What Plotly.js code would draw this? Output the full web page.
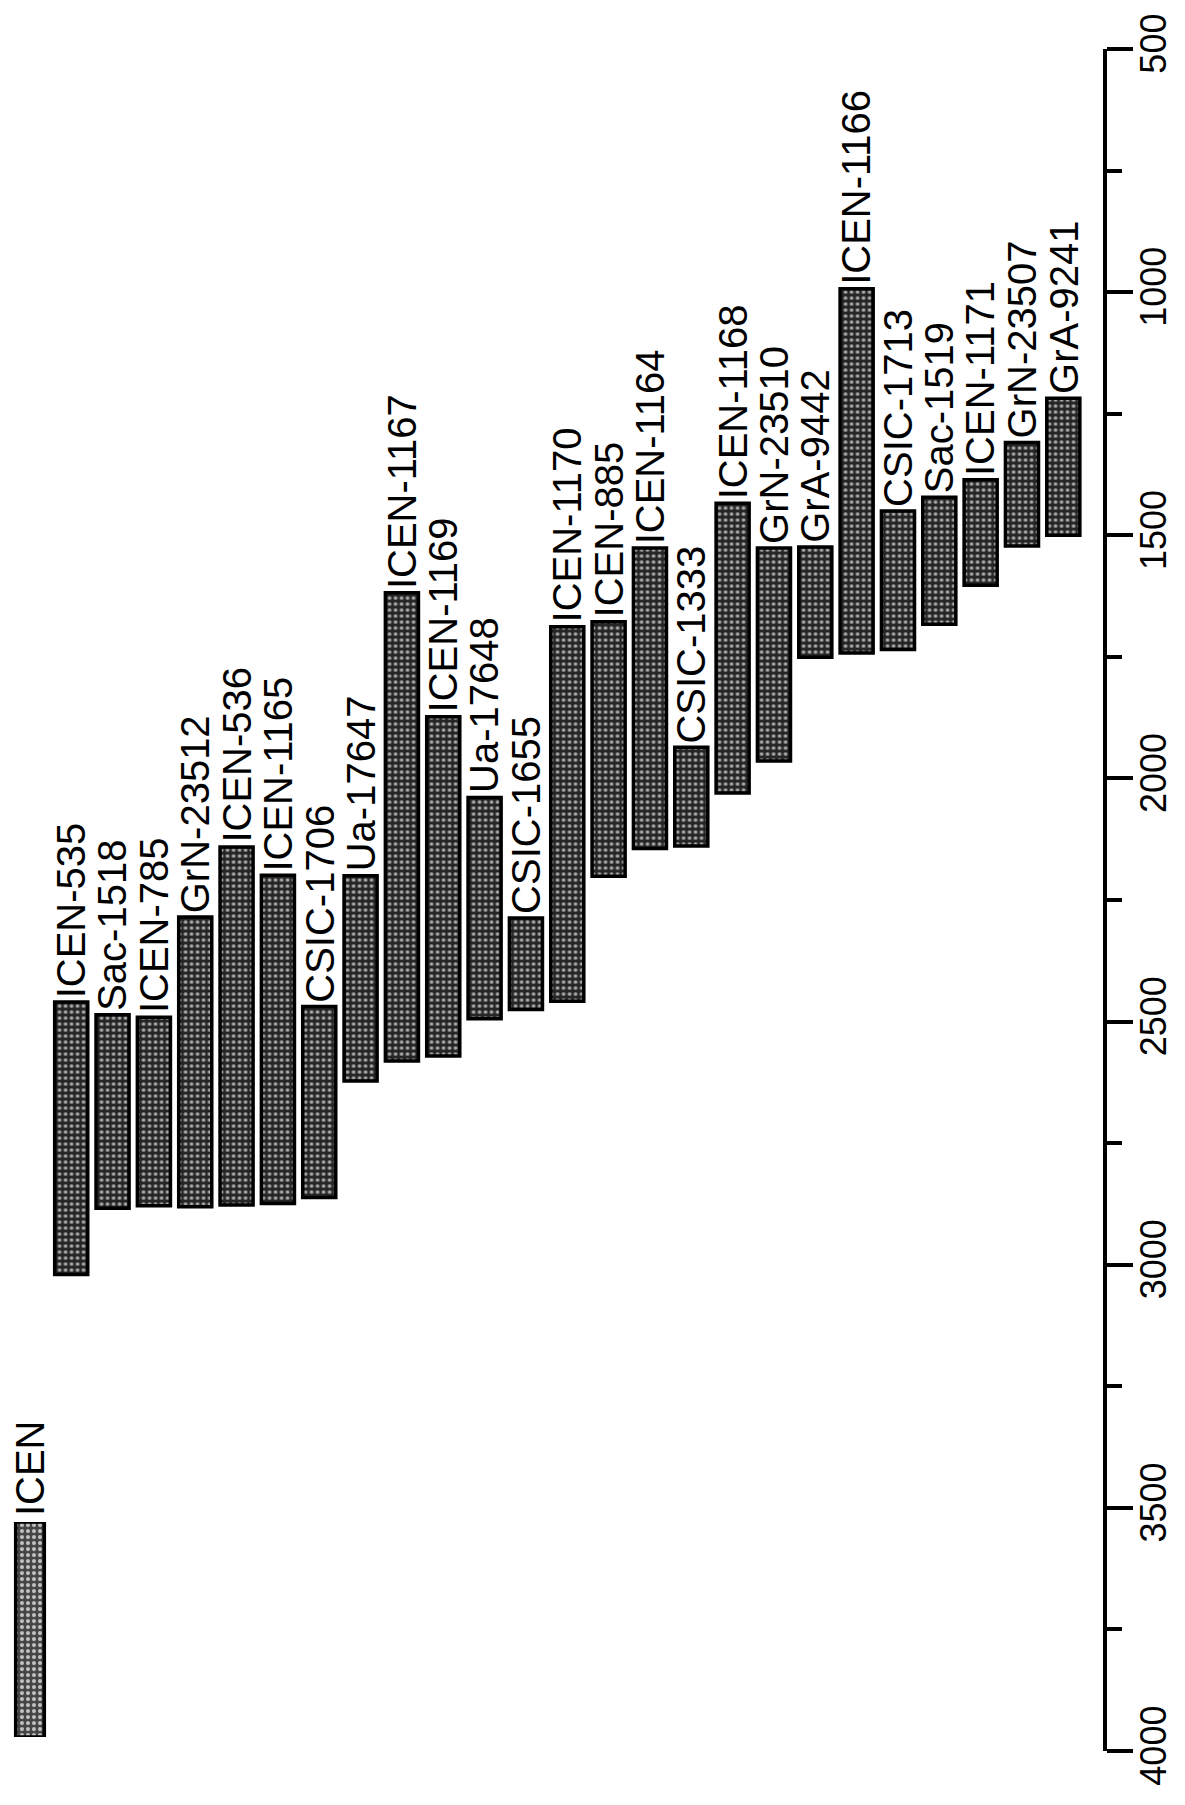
<!DOCTYPE html>
<html>
<head>
<meta charset="utf-8">
<script src="https://cdn.plot.ly/plotly-3.0.1.min.js"></script>
<style>html,body{margin:0;padding:0;background:#fff;}#chart{width:1185px;height:1805px;}</style>
</head>
<body>
<div id="chart"></div>
<script>
// Sample labels (left to right)
const labels = ["ICEN-535","Sac-1518","ICEN-785","GrN-23512","ICEN-536","ICEN-1165","CSIC-1706","Ua-17647","ICEN-1167","ICEN-1169","Ua-17648","CSIC-1655","ICEN-1170","ICEN-885","ICEN-1164","CSIC-1333","ICEN-1168","GrN-23510","GrA-9442","ICEN-1166","CSIC-1713","Sac-1519","ICEN-1171","GrN-23507","GrA-9241"];
// Range start (younger end, top of bar) and end (older end, bottom of bar)
const rangeStart = [2460,2486,2491,2285,2141,2199,2469,2200,1618,1873,2039,2287,1688,1678,1526,1936,1434,1526,1524,993,1450,1422,1386,1309,1218];
const rangeEnd   = [3020,2884,2879,2881,2877,2874,2862,2622,2581,2571,2494,2475,2458,2201,2144,2139,2030,1964,1751,1742,1735,1683,1603,1522,1500];
// Axis ticks
const tickVals = [500,1000,1500,2000,2500,3000,3500,4000];
const legendName = "ICEN";

const FONT = "Liberation Sans, Arial, Helvetica, sans-serif";
const idx = labels.map((_, i) => i);

const pattern = {shape: ".", fillmode: "replace", bgcolor: "#262626", fgcolor: "#a8a8a8", size: 6, solidity: 0.3};

const bars = {
  type: "bar",
  x: idx,
  base: rangeStart,
  y: rangeEnd.map((e, i) => e - rangeStart[i]),
  marker: {color: "#262626", pattern: pattern, line: {color: "#000", width: 3.5}},
  xaxis: "x", yaxis: "y",
  hoverinfo: "skip",
  showlegend: false
};

const legendBar = {
  type: "bar",
  x: [0], y: [1], width: [0.84],
  marker: {color: "#444", pattern: Object.assign({}, pattern, {bgcolor: "#444", fgcolor: "#c4c4c4", solidity: 0.35}), line: {color: "#000", width: 3.5}},
  xaxis: "x2", yaxis: "y2",
  hoverinfo: "skip",
  showlegend: false
};

const annotations = labels.map((t, i) => ({
  x: i, y: rangeStart[i], xref: "x", yref: "y",
  text: t, textangle: -90, showarrow: false,
  xanchor: "center", yanchor: "bottom", yshift: 2,
  font: {family: FONT, size: 40, color: "#000"}
}));
annotations.push({
  x: 0, y: 1, xref: "x2", yref: "y2",
  text: legendName, textangle: -90, showarrow: false,
  xanchor: "center", yanchor: "bottom", yshift: 4,
  font: {family: FONT, size: 40, color: "#000"}
});

const layout = {
  width: 1185, height: 1805,
  margin: {l: 10, r: 82, t: 49, b: 54},
  paper_bgcolor: "#fff", plot_bgcolor: "rgba(0,0,0,0)",
  bargap: 0.2,
  showlegend: false,
  xaxis: {domain: [0.0371, 1], range: [-0.5, 24.96], visible: false, fixedrange: true},
  yaxis: {
    range: [4000, 500], side: "right", anchor: "x",
    showline: true, linecolor: "#000", linewidth: 4,
    ticks: "outside", ticklen: 26, tickwidth: 4, tickcolor: "#000",
    tickmode: "array", tickvals: tickVals, ticktext: tickVals.map(String),
    tickangle: -90, tickfont: {family: FONT, size: 36, color: "#000"},
    ticklabelstandoff: -10,
    minor: {dtick: 250, tick0: 500, ticks: "outside", ticklen: 15, tickwidth: 4, tickcolor: "#000", showgrid: false},
    showgrid: false, zeroline: false, fixedrange: true
  },
  xaxis2: {domain: [0.0027, 0.0339], range: [-0.5, 0.5], visible: false, anchor: "y2", fixedrange: true},
  yaxis2: {domain: [0.0082, 0.1345], range: [0, 1], visible: false, anchor: "x2", fixedrange: true},
  annotations: annotations
};

Plotly.newPlot("chart", [bars, legendBar], layout, {displayModeBar: false, staticPlot: true});
</script>
</body>
</html>
